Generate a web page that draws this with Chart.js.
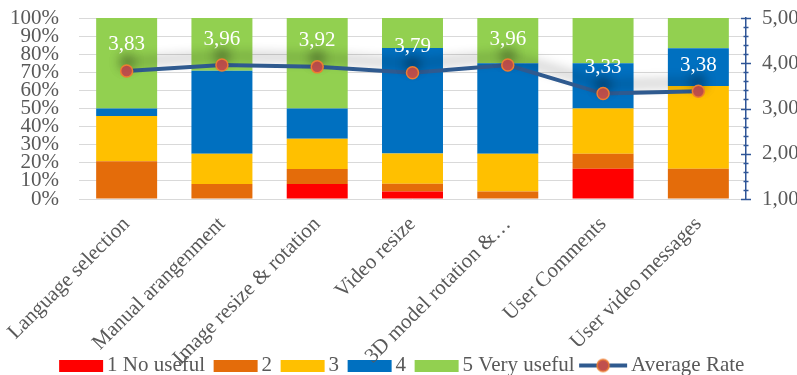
<!DOCTYPE html>
<html>
<head>
<meta charset="utf-8">
<script src="https://cdn.jsdelivr.net/npm/chart.js@4/dist/chart.umd.min.js"></script>
<style>
  html, body { margin: 0; padding: 0; background: #fff; overflow: hidden; }
  #wrap { position: relative; width: 805px; height: 375px; }
</style>
</head>
<body>
<div id="wrap"><canvas id="myChart"></canvas></div>
<script>
// categories
var features = ['Language selection', 'Manual arangenment', 'Image resize & rotation', 'Video resize',
  '3D model rotation &\u2026', 'User Comments', 'User video messages'];
// share of answers (%) per rating
var noUseful = [0, 0, 8.3, 4.2, 0, 16.7, 0];
var rate2 = [20.8, 8.3, 8.3, 4.2, 4.2, 8.3, 16.7];
var rate3 = [25.0, 16.7, 16.7, 16.7, 20.8, 25.0, 45.8];
var rate4 = [4.2, 45.8, 16.7, 58.3, 50.0, 25.0, 20.8];
var veryUseful = [50.0, 29.2, 50.0, 16.7, 25.0, 25.0, 16.7];
// average rate (right axis)
var avgRate = [3.83, 3.96, 3.92, 3.79, 3.96, 3.33, 3.38];

var serif = "'Liberation Serif', 'Times New Roman', serif";
var tickColor = '#595959';
var axisBlue = '#2F5597';
var lineBlue = '#2F5A8F';

function comma(v) { return v.toFixed(2).replace('.', ','); }

// legend symbols drawn as small canvases
function boxIcon(color) {
  var c = document.createElement('canvas');
  c.width = 51; c.height = 12;
  var g = c.getContext('2d');
  g.fillStyle = color;
  g.fillRect(6, 0, 44, 12);
  return c;
}
function lineIcon() {
  var c = document.createElement('canvas');
  c.width = 51; c.height = 16;
  var g = c.getContext('2d');
  g.strokeStyle = lineBlue;
  g.lineWidth = 4;
  g.beginPath(); g.moveTo(2, 8); g.lineTo(50, 8); g.stroke();
  g.beginPath(); g.arc(26, 8, 6, 0, Math.PI * 2);
  g.fillStyle = '#C0504D'; g.fill();
  g.lineWidth = 1.5; g.strokeStyle = '#ED7D31'; g.stroke();
  return c;
}

var lineShadow = {
  id: 'lineShadow',
  beforeDatasetDraw: function (chart, args) {
    if (args.index !== 5) return;
    var ctx = chart.ctx;
    ctx.save();
    ctx.shadowColor = 'rgba(0,0,0,0.4)';
    ctx.shadowBlur = 12;
    ctx.shadowOffsetY = -9;
  },
  afterDatasetDraw: function (chart, args) {
    if (args.index !== 5) return;
    chart.ctx.restore();
  }
};

var rateLabels = {
  id: 'rateLabels',
  afterDatasetsDraw: function (chart) {
    var ctx = chart.ctx;
    var meta = chart.getDatasetMeta(5);
    ctx.save();
    ctx.fillStyle = '#ffffff';
    ctx.font = '21px ' + serif;
    ctx.textAlign = 'center';
    ctx.textBaseline = 'middle';
    meta.data.forEach(function (pt, i) {
      ctx.fillText(comma(avgRate[i]), pt.x, pt.y - 26);
    });
    ctx.restore();
  }
};

// major + minor tick marks on the right axis
var rightTicks = {
  id: 'rightTicks',
  afterDraw: function (chart) {
    var s = chart.scales.y2;
    var ctx = chart.ctx;
    ctx.save();
    ctx.strokeStyle = axisBlue;
    ctx.lineWidth = 1.5;
    for (var k = 0; k <= 20; k++) {
      var v = 1 + k * 0.2;
      var y = Math.round(s.getPixelForValue(v)) + 0.5;
      var len = (k % 5 === 0) ? 5 : 2.5;
      ctx.beginPath();
      ctx.moveTo(s.left - len, y);
      ctx.lineTo(s.left + len, y);
      ctx.stroke();
    }
    ctx.restore();
  }
};

// let the long rotated category labels run past the axis box
var unclipX = {
  id: 'unclipX',
  afterLayout: function (chart) {
    chart.scales.x.bottom = chart.height;
  }
};

var ctx = document.getElementById('myChart');
var myChart = new Chart(ctx, {
  type: 'bar',
  data: {
    labels: features,
    datasets: [
      { label: '1 No useful', data: noUseful, backgroundColor: '#FF0000', order: 1 },
      { label: '2', data: rate2, backgroundColor: '#E46C0A', order: 1 },
      { label: '3', data: rate3, backgroundColor: '#FFC000', order: 1 },
      { label: '4', data: rate4, backgroundColor: '#0070C0', order: 1 },
      { label: '5 Very useful', data: veryUseful, backgroundColor: '#92D050', order: 1 },
      {
        type: 'line',
        label: 'Average Rate',
        data: avgRate,
        yAxisID: 'y2',
        borderColor: lineBlue,
        borderWidth: 4,
        pointRadius: 6,
        pointBackgroundColor: '#C0504D',
        pointBorderColor: '#ED7D31',
        pointBorderWidth: 1.5,
        order: 0
      }
    ]
  },
  options: {
    responsive: true,
    maintainAspectRatio: false,
    animation: false,
    datasets: { bar: { categoryPercentage: 1, barPercentage: 0.64 } },
    layout: { padding: { left: 0, top: 18, right: 0, bottom: -11 } },
    plugins: {
      tooltip: { enabled: false },
      legend: {
        position: 'bottom',
        labels: {
          font: { family: serif, size: 21 },
          color: tickColor,
          usePointStyle: true,
          pointStyleWidth: 36,
          padding: 10,
          generateLabels: function (chart) {
            return chart.data.datasets.map(function (ds, i) {
              return {
                text: ds.label,
                pointStyle: ds.type === 'line' ? lineIcon() : boxIcon(ds.backgroundColor),
                fillStyle: ds.backgroundColor,
                strokeStyle: 'transparent',
                lineWidth: 0,
                fontColor: tickColor,
                datasetIndex: i
              };
            });
          }
        }
      }
    },
    scales: {
      x: {
        stacked: true,
        grid: { display: false },
        border: { display: false },
        ticks: {
          font: { family: serif, size: 21 },
          color: tickColor,
          minRotation: 45,
          maxRotation: 45,
          autoSkip: false,
          padding: 5
        },
        afterFit: function (s) {
          s.paddingLeft = 0;
          s.paddingRight = 0;
          s.height = 146;
        }
      },
      y: {
        stacked: true,
        min: 0,
        max: 100,
        ticks: {
          stepSize: 10,
          autoSkip: false,
          font: { family: serif, size: 21 },
          color: tickColor,
          padding: 20,
          callback: function (v) { return v + '%'; }
        },
        grid: { color: '#D9D9D9', lineWidth: 1, drawTicks: false },
        border: { display: false },
        afterFit: function (s) {
          s.width = 79;
          s.paddingTop = 0;
          s.paddingBottom = 0;
        }
      },
      y2: {
        position: 'right',
        min: 1,
        max: 5,
        ticks: {
          stepSize: 1,
          font: { family: serif, size: 21 },
          color: tickColor,
          padding: 8,
          callback: function (v) { return comma(v); }
        },
        grid: { display: false },
        border: { display: true, color: axisBlue, width: 1.5 },
        afterFit: function (s) {
          s.width = 59;
          s.paddingTop = 0;
          s.paddingBottom = 0;
        }
      }
    }
  },
  plugins: [lineShadow, rateLabels, rightTicks, unclipX]
});
</script>
</body>
</html>
